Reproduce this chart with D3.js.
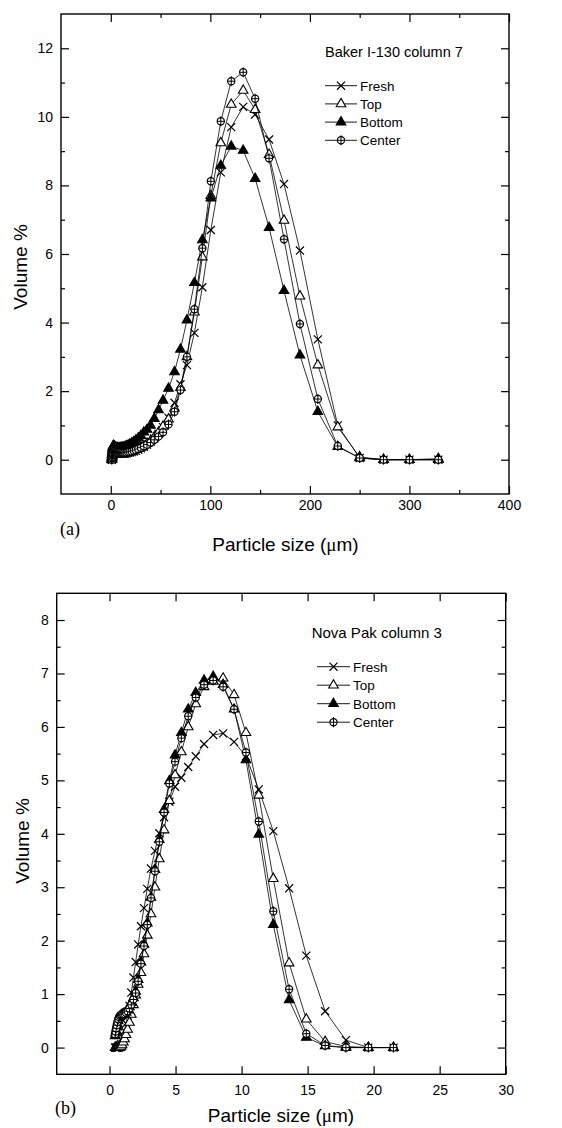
<!DOCTYPE html>
<html>
<head>
<meta charset="utf-8">
<title>Particle size distributions</title>
<style>
  body { margin: 0; background: #fff; }
  svg text { font-family: "Liberation Sans", Arial, Helvetica, sans-serif; fill: #000; }
</style>
</head>
<body>
<script src="https://cdnjs.cloudflare.com/ajax/libs/d3/7.9.0/d3.min.js"></script>
<script>
// ---- data ----
const seriesNames = ["Fresh", "Top", "Bottom", "Center"];

// panel (a) Baker I-130 column 7, particle size in um
const sizesA = [
  1.0, 1.1, 1.2, 1.3, 1.5, 1.6, 1.7, 1.9,
  2.1, 2.3, 2.5, 2.8, 3.0, 3.3, 3.6, 4.0,
  4.4, 4.8, 5.3, 5.8, 6.4, 7.0, 7.6, 8.4,
  9.2, 10.1, 11.0, 12.1, 13.3, 14.5, 15.9, 17.5,
  19.1, 21.0, 23.0, 25.2, 27.6, 30.3, 33.2, 36.4,
  39.9, 43.7, 48.0, 52.5, 58, 64, 70, 76.5,
  84, 92, 100.5, 110.5, 121, 133, 145, 159,
  174, 190, 208, 228, 250, 274, 300, 329
];
const freshA = [
  0, 0, 0.02, 0.05, 0.08, 0.1, 0.12, 0.14,
  0.16, 0.17, 0.18, 0.18, 0.18, 0.18, 0.18, 0.18,
  0.18, 0.18, 0.18, 0.18, 0.18, 0.18, 0.18, 0.18,
  0.18, 0.18, 0.18, 0.18, 0.18, 0.18, 0.19, 0.2,
  0.21, 0.22, 0.24, 0.26, 0.29, 0.33, 0.38, 0.44,
  0.52, 0.62, 0.75, 0.95, 1.22, 1.66, 2.2, 2.76,
  3.70, 5.03, 6.70, 8.38, 9.70, 10.29, 10.07, 9.34,
  8.04, 6.10, 3.51, 1.0, 0.05, 0, 0, 0
];
const topA = [
  0, 0.02, 0.05, 0.08, 0.11, 0.14, 0.17, 0.19,
  0.21, 0.22, 0.23, 0.23, 0.23, 0.23, 0.22, 0.22,
  0.22, 0.21, 0.21, 0.2, 0.2, 0.2, 0.2, 0.2,
  0.2, 0.2, 0.2, 0.2, 0.2, 0.21, 0.22, 0.23,
  0.24, 0.25, 0.27, 0.29, 0.32, 0.36, 0.41, 0.47,
  0.55, 0.66, 0.8, 0.97, 1.18, 1.5, 2.1, 3.0,
  4.3, 5.91, 7.7, 9.24, 10.36, 10.77, 10.21, 8.9,
  6.98, 4.77, 2.76, 0.95, 0.08, 0, 0, 0
];
const bottomA = [
  0, 0.05, 0.1, 0.15, 0.2, 0.25, 0.3, 0.33,
  0.36, 0.38, 0.4, 0.4, 0.4, 0.39, 0.38, 0.37,
  0.36, 0.35, 0.35, 0.34, 0.34, 0.34, 0.34, 0.34,
  0.34, 0.35, 0.35, 0.36, 0.37, 0.38, 0.4, 0.42,
  0.45, 0.48, 0.52, 0.57, 0.63, 0.7, 0.8, 0.88,
  1.0, 1.2, 1.45, 1.73, 2.08, 2.56, 3.22, 4.07,
  5.16, 6.41, 7.63, 8.58, 9.14, 9.02, 8.2, 6.77,
  4.93, 3.05, 1.40, 0.38, 0.05, 0, 0, 0.03
];
const centerA = [
  0, 0.04, 0.08, 0.12, 0.16, 0.19, 0.22, 0.25,
  0.27, 0.29, 0.3, 0.3, 0.3, 0.29, 0.28, 0.27,
  0.26, 0.25, 0.24, 0.23, 0.22, 0.22, 0.21, 0.21,
  0.21, 0.2, 0.2, 0.2, 0.2, 0.2, 0.21, 0.22,
  0.23, 0.24, 0.26, 0.28, 0.31, 0.35, 0.39, 0.44,
  0.5, 0.58, 0.68, 0.8, 1.03, 1.4, 2.03, 3.0,
  4.39, 6.17, 8.12, 9.87, 11.04, 11.30, 10.53, 8.79,
  6.43, 3.96, 1.77, 0.4, 0.05, 0, 0, 0
];
const xTicksA = [0, 100, 200, 300, 400];
const xMinorA = [50, 150, 250, 350];
const yTicksA = [0, 2, 4, 6, 8, 10, 12];
const yMinorA = [1, 3, 5, 7, 9, 11];

// panel (b) Nova Pak column 3
const sizesB = [
  0.42, 0.46, 0.5, 0.55, 0.6, 0.66, 0.72, 0.79,
  0.87, 0.95, 1.04, 1.14, 1.25, 1.37, 1.51, 1.65,
  1.81, 1.98, 2.17, 2.38, 2.61, 2.86, 3.14, 3.44,
  3.77, 4.13, 4.53, 4.96, 5.44, 5.96, 6.53, 7.16,
  7.85, 8.6, 9.43, 10.33, 11.3, 12.4, 13.6, 14.9,
  16.33, 17.9, 19.6, 21.5
];
const freshB = [
  0, 0, 0, 0, 0, 0, 0, 0.03,
  0.07, 0.13, 0.2, 0.31, 0.45, 0.6, 0.78, 1.03,
  1.31, 1.6, 1.93, 2.27, 2.61, 2.97, 3.35, 3.68,
  4.01, 4.31, 4.6, 4.88, 5.05, 5.25, 5.45, 5.68,
  5.85, 5.88, 5.72, 5.45, 4.83, 4.05, 2.98, 1.72,
  0.68, 0.14, 0, 0
];
const topB = [
  0, 0, 0, 0, 0, 0, 0, 0,
  0.02, 0.05, 0.1, 0.16, 0.24, 0.34, 0.47, 0.62,
  0.8, 0.98, 1.18, 1.4, 1.75, 2.1, 2.5, 3.0,
  3.53, 4.07, 4.62, 5.1, 5.53, 6.0, 6.43, 6.75,
  6.85, 6.91, 6.6, 5.89, 4.72, 3.16, 1.58, 0.53,
  0.11, 0.02, 0, 0
];
const bottomB = [
  0.22, 0.27, 0.32, 0.38, 0.44, 0.5, 0.55, 0.58,
  0.6, 0.62, 0.63, 0.64, 0.66, 0.7, 0.76, 0.84,
  0.93, 1.05, 1.27, 1.6, 1.93, 2.33, 2.81, 3.33,
  3.89, 4.45, 4.99, 5.47, 5.89, 6.33, 6.64, 6.87,
  6.94, 6.79, 6.33, 5.38, 3.99, 2.30, 0.89, 0.19,
  0.03, 0, 0, 0
];
const centerB = [
  0.25, 0.3, 0.36, 0.42, 0.48, 0.53, 0.57, 0.6,
  0.61, 0.62, 0.62, 0.63, 0.65, 0.68, 0.73, 0.8,
  0.9, 1.02, 1.24, 1.57, 1.9, 2.3, 2.8, 3.3,
  3.85, 4.4, 4.94, 5.35, 5.79, 6.2, 6.55, 6.79,
  6.87, 6.75, 6.33, 5.52, 4.23, 2.55, 1.09, 0.26,
  0.04, 0, 0, 0
];
const xTicksB = [0, 5, 10, 15, 20, 25, 30];
const xMinorB = [];
const yTicksB = [0, 1, 2, 3, 4, 5, 6, 7, 8];
const yMinorB = [0.5, 1.5, 2.5, 3.5, 4.5, 5.5, 6.5, 7.5];

// ---- drawing ----
const svg = d3.select("body").append("svg")
    .attr("width", 562)
    .attr("height", 1128);

svg.append("rect").attr("width", 562).attr("height", 1128).attr("fill", "#fff");

const markerTypes = ["times", "open", "filled", "center"];

function drawMarker(sel, type) {
    if (type === "times") {
        sel.append("path")
            .attr("d", d3.symbol().type(d3.symbolTimes).size(44)())
            .attr("fill", "none").attr("stroke", "#000").attr("stroke-width", 1.2);
    } else if (type === "open" || type === "filled") {
        sel.append("path")
            .attr("d", d3.symbol().type(d3.symbolTriangle).size(40)())
            .attr("fill", type === "filled" ? "#000" : "#fff")
            .attr("stroke", "#000").attr("stroke-width", 1.1);
    } else {
        sel.append("circle").attr("r", 3.6)
            .attr("fill", "#fff").attr("stroke", "#000").attr("stroke-width", 1.2);
        sel.append("path").attr("d", "M0,-5V5M-3.6,0H3.6")
            .attr("stroke", "#000").attr("stroke-width", 1);
    }
}

function drawPanel(p) {
    const x = d3.scaleLinear().domain(p.xDomain).range([p.left, p.right]);
    const y = d3.scaleLinear().domain(p.yDomain).range([p.bottom, p.top]);
    const g = svg.append("g");

    const tickStyle = a => {
        a.select(".domain").remove();
        a.selectAll("line").attr("stroke-width", 1.2);
        a.selectAll("text").attr("font-size", "14px").attr("fill", "#000");
    };

    // bottom / left with labels, ticks pointing inward
    g.append("g").attr("transform", `translate(0,${p.bottom})`)
        .call(d3.axisBottom(x).tickValues(p.xTicks).tickSizeInner(-8).tickSizeOuter(0)
            .tickPadding(p.xPad).tickFormat(d3.format("d")))
        .call(tickStyle);
    g.append("g").attr("transform", `translate(${p.left},0)`)
        .call(d3.axisLeft(y).tickValues(p.yTicks).tickSizeInner(-8).tickSizeOuter(0)
            .tickPadding(8).tickFormat(d3.format("d")))
        .call(tickStyle);
    // top / right, no labels
    g.append("g").attr("transform", `translate(0,${p.top})`)
        .call(d3.axisTop(x).tickValues(p.xTicks).tickSizeInner(-8).tickSizeOuter(0).tickFormat(""))
        .call(tickStyle);
    g.append("g").attr("transform", `translate(${p.right},0)`)
        .call(d3.axisRight(y).tickValues(p.yTicks).tickSizeInner(-8).tickSizeOuter(0).tickFormat(""))
        .call(tickStyle);
    // minor ticks
    g.append("g").attr("transform", `translate(0,${p.bottom})`)
        .call(d3.axisBottom(x).tickValues(p.xMinor).tickSize(-4).tickFormat("")).call(tickStyle);
    g.append("g").attr("transform", `translate(0,${p.top})`)
        .call(d3.axisTop(x).tickValues(p.xMinor).tickSize(-4).tickFormat("")).call(tickStyle);
    g.append("g").attr("transform", `translate(${p.left},0)`)
        .call(d3.axisLeft(y).tickValues(p.yMinor).tickSize(-4).tickFormat("")).call(tickStyle);
    g.append("g").attr("transform", `translate(${p.right},0)`)
        .call(d3.axisRight(y).tickValues(p.yMinor).tickSize(-4).tickFormat("")).call(tickStyle);

    // frame
    g.append("rect")
        .attr("x", p.left).attr("y", p.top)
        .attr("width", p.right - p.left).attr("height", p.bottom - p.top)
        .attr("fill", "none").attr("stroke", "#000").attr("stroke-width", 1.4);

    // series
    const line = d3.line().x(d => x(d[0])).y(d => y(d[1]));
    p.series.forEach((vals, i) => {
        const pts = p.sizes.map((s, j) => [s, vals[j]]);
        g.append("path").datum(pts).attr("d", line)
            .attr("fill", "none").attr("stroke", "#000").attr("stroke-width", 0.8);
        g.append("g").selectAll("g").data(pts).join("g")
            .attr("transform", d => `translate(${x(d[0])},${y(d[1])})`)
            .each(function () { drawMarker(d3.select(this), markerTypes[i]); });
    });

    // legend
    g.append("text").attr("x", p.titleX).attr("y", p.titleY)
        .attr("font-size", p.titleSize + "px").text(p.title);
    seriesNames.forEach((name, i) => {
        const ly = p.legY + i * p.legDy;
        g.append("line").attr("x1", p.legX1).attr("x2", p.legX2)
            .attr("y1", ly).attr("y2", ly).attr("stroke", "#000").attr("stroke-width", 0.9);
        const m = g.append("g").attr("transform", `translate(${(p.legX1 + p.legX2) / 2},${ly})`);
        drawMarker(m, markerTypes[i]);
        g.append("text").attr("x", p.legX2 + 3).attr("y", ly + 5)
            .attr("font-size", "13.5px").text(name);
    });

    // axis titles
    g.append("text")
        .attr("transform", `translate(${p.yTitleX},${p.yTitleY}) rotate(-90)`)
        .attr("text-anchor", "middle").attr("dy", "0.35em")
        .attr("font-size", "19px").text("Volume %");
    const xt = g.append("text").attr("x", p.xTitleX).attr("y", p.xTitleY)
        .attr("text-anchor", "middle").attr("font-size", "19px");
    xt.append("tspan").text("Particle size (");
    xt.append("tspan").attr("font-family", "Liberation Serif, serif").text("\u03bc");
    xt.append("tspan").text("m)");

    g.append("text").attr("x", p.labelX).attr("y", p.labelY)
        .style("font-family", "Liberation Serif, Times New Roman, serif")
        .attr("font-size", "18px").text(p.label);
}

drawPanel({
    left: 61, right: 509, top: 14, bottom: 494,
    xDomain: [-50, 400], yDomain: [-1, 13],
    xTicks: xTicksA, xMinor: xMinorA, yTicks: yTicksA, yMinor: yMinorA, xPad: 6,
    sizes: sizesA, series: [freshA, topA, bottomA, centerA],
    title: "Baker I-130 column 7", titleX: 325, titleY: 57, titleSize: 14.5,
    legX1: 325, legX2: 357, legY: 85.7, legDy: 18.2,
    yTitleX: 20, yTitleY: 267, xTitleX: 285.5, xTitleY: 551,
    label: "(a)", labelX: 60, labelY: 535
});

drawPanel({
    left: 56.7, right: 505.7, top: 593.3, bottom: 1074.3,
    xDomain: [-4, 30], yDomain: [-0.5, 8.5],
    xTicks: xTicksB, xMinor: xMinorB, yTicks: yTicksB, yMinor: yMinorB, xPad: 11,
    sizes: sizesB, series: [freshB, topB, bottomB, centerB],
    title: "Nova Pak column 3", titleX: 311.7, titleY: 638, titleSize: 15,
    legX1: 317, legX2: 350, legY: 666.7, legDy: 18.5,
    yTitleX: 22, yTitleY: 841, xTitleX: 281, xTitleY: 1122,
    label: "(b)", labelX: 55, labelY: 1114
});
</script>
</body>
</html>
